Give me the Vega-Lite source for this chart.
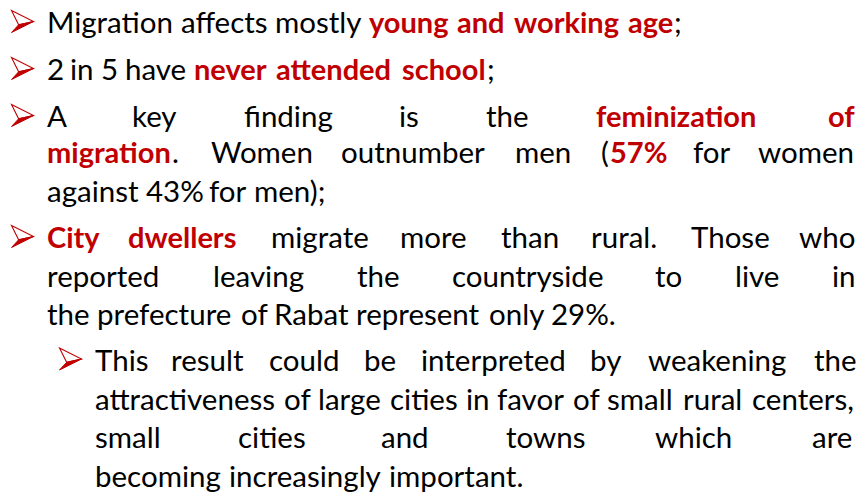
{
  "$schema": "https://vega.github.io/schema/vega-lite/v6.json",
  "width": 861,
  "height": 495,
  "autosize": {"type": "fit", "contains": "padding"},
  "padding": 0,
  "background": "white",
  "config": {"view": {"stroke": null}},
  "datasets": {
    "words": [
      {"y": 33, "x": 47, "t": "Migration", "s": "n"},
      {"y": 33, "x": 181, "t": "affects", "s": "n"},
      {"y": 33, "x": 275, "t": "mostly", "s": "n"},
      {"y": 33, "x": 369, "t": "young", "s": "b"},
      {"y": 33, "x": 457, "t": "and", "s": "b"},
      {"y": 33, "x": 514, "t": "working", "s": "b"},
      {"y": 33, "x": 628, "t": "age", "s": "b"},
      {"y": 33, "x": 674, "t": ";", "s": "n"},
      {"y": 80, "x": 47, "t": "2", "s": "n"},
      {"y": 80, "x": 70, "t": "in", "s": "n"},
      {"y": 80, "x": 101, "t": "5", "s": "n"},
      {"y": 80, "x": 125, "t": "have", "s": "n"},
      {"y": 80, "x": 194, "t": "never", "s": "b"},
      {"y": 80, "x": 276, "t": "attended", "s": "b"},
      {"y": 80, "x": 402, "t": "school", "s": "b"},
      {"y": 80, "x": 487, "t": ";", "s": "n"},
      {"y": 127, "x": 47, "t": "A", "s": "n"},
      {"y": 127, "x": 132, "t": "key", "s": "n"},
      {"y": 127, "x": 244, "t": "finding", "s": "n"},
      {"y": 127, "x": 399, "t": "is", "s": "n"},
      {"y": 127, "x": 486, "t": "the", "s": "n"},
      {"y": 127, "x": 596, "t": "feminization", "s": "b"},
      {"y": 127, "x": 828, "t": "of", "s": "b"},
      {"y": 163, "x": 47, "t": "migration", "s": "b"},
      {"y": 163, "x": 172, "t": ".", "s": "n"},
      {"y": 163, "x": 211, "t": "Women", "s": "n"},
      {"y": 163, "x": 341, "t": "outnumber", "s": "n"},
      {"y": 163, "x": 515, "t": "men", "s": "n"},
      {"y": 163, "x": 601, "t": "(", "s": "n"},
      {"y": 163, "x": 610, "t": "57%", "s": "b"},
      {"y": 163, "x": 693, "t": "for", "s": "n"},
      {"y": 163, "x": 758, "t": "women", "s": "n"},
      {"y": 202, "x": 47, "t": "against", "s": "n"},
      {"y": 202, "x": 146, "t": "43%", "s": "n"},
      {"y": 202, "x": 209, "t": "for", "s": "n"},
      {"y": 202, "x": 254, "t": "men);", "s": "n"},
      {"y": 248, "x": 47, "t": "City", "s": "b"},
      {"y": 248, "x": 128, "t": "dwellers", "s": "b"},
      {"y": 248, "x": 271, "t": "migrate", "s": "n"},
      {"y": 248, "x": 400, "t": "more", "s": "n"},
      {"y": 248, "x": 501, "t": "than", "s": "n"},
      {"y": 248, "x": 591, "t": "rural.", "s": "n"},
      {"y": 248, "x": 691, "t": "Those", "s": "n"},
      {"y": 248, "x": 799, "t": "who", "s": "n"},
      {"y": 287, "x": 47, "t": "reported", "s": "n"},
      {"y": 287, "x": 213, "t": "leaving", "s": "n"},
      {"y": 287, "x": 357, "t": "the", "s": "n"},
      {"y": 287, "x": 452, "t": "countryside", "s": "n"},
      {"y": 287, "x": 655, "t": "to", "s": "n"},
      {"y": 287, "x": 735, "t": "live", "s": "n"},
      {"y": 287, "x": 832, "t": "in", "s": "n"},
      {"y": 325, "x": 47, "t": "the", "s": "n"},
      {"y": 325, "x": 97, "t": "prefecture", "s": "n"},
      {"y": 325, "x": 241, "t": "of", "s": "n"},
      {"y": 325, "x": 274, "t": "Rabat", "s": "n"},
      {"y": 325, "x": 356, "t": "represent", "s": "n"},
      {"y": 325, "x": 489, "t": "only", "s": "n"},
      {"y": 325, "x": 551, "t": "29%.", "s": "n"},
      {"y": 371, "x": 95, "t": "This", "s": "n"},
      {"y": 371, "x": 171, "t": "result", "s": "n"},
      {"y": 371, "x": 269, "t": "could", "s": "n"},
      {"y": 371, "x": 364, "t": "be", "s": "n"},
      {"y": 371, "x": 421, "t": "interpreted", "s": "n"},
      {"y": 371, "x": 590, "t": "by", "s": "n"},
      {"y": 371, "x": 648, "t": "weakening", "s": "n"},
      {"y": 371, "x": 814, "t": "the", "s": "n"},
      {"y": 410, "x": 95, "t": "attractiveness", "s": "n"},
      {"y": 410, "x": 284, "t": "of", "s": "n"},
      {"y": 410, "x": 318, "t": "large", "s": "n"},
      {"y": 410, "x": 390, "t": "cities", "s": "n"},
      {"y": 410, "x": 466, "t": "in", "s": "n"},
      {"y": 410, "x": 497, "t": "favor", "s": "n"},
      {"y": 410, "x": 573, "t": "of", "s": "n"},
      {"y": 410, "x": 607, "t": "small", "s": "n"},
      {"y": 410, "x": 683, "t": "rural", "s": "n"},
      {"y": 410, "x": 752, "t": "centers,", "s": "n"},
      {"y": 448, "x": 95, "t": "small", "s": "n"},
      {"y": 448, "x": 238, "t": "cities", "s": "n"},
      {"y": 448, "x": 381, "t": "and", "s": "n"},
      {"y": 448, "x": 506, "t": "towns", "s": "n"},
      {"y": 448, "x": 655, "t": "which", "s": "n"},
      {"y": 448, "x": 812, "t": "are", "s": "n"},
      {"y": 487, "x": 95, "t": "becoming", "s": "n"},
      {"y": 487, "x": 229, "t": "increasingly", "s": "n"},
      {"y": 487, "x": 389, "t": "important.", "s": "n"}
    ],
    "bullets": [
      {"x": 22.5, "y": 21.5},
      {"x": 22.5, "y": 68.5},
      {"x": 22.5, "y": 115.5},
      {"x": 22.5, "y": 236.5},
      {"x": 70.5, "y": 359}
    ]
  },
  "layer": [
    {
      "data": {"name": "words"},
      "transform": [{"filter": "datum.s == 'n'"}],
      "mark": {"type": "text", "align": "left", "baseline": "alphabetic", "font": "Lato", "fontSize": 29.5, "color": "#000000"},
      "encoding": {
        "x": {"field": "x", "type": "quantitative", "scale": {"domain": [0, 861], "nice": false, "zero": false}, "axis": null},
        "y": {"field": "y", "type": "quantitative", "scale": {"domain": [0, 495], "nice": false, "reverse": true}, "axis": null},
        "text": {"field": "t"}
      }
    },
    {
      "data": {"name": "words"},
      "transform": [{"filter": "datum.s == 'b'"}],
      "mark": {"type": "text", "align": "left", "baseline": "alphabetic", "font": "Lato", "fontSize": 29, "fontWeight": "bold", "color": "#C00000"},
      "encoding": {
        "x": {"field": "x", "type": "quantitative", "scale": {"domain": [0, 861], "nice": false, "zero": false}, "axis": null},
        "y": {"field": "y", "type": "quantitative", "scale": {"domain": [0, 495], "nice": false, "reverse": true}, "axis": null},
        "text": {"field": "t"}
      }
    },
    {
      "data": {"name": "bullets"},
      "mark": {"type": "point", "shape": "M-1,-1L1,0L-0.35,0.3Z", "filled": true, "fill": "#ffffff", "stroke": "#C00000", "strokeWidth": 1.1, "size": 484, "opacity": 1},
      "encoding": {
        "x": {"field": "x", "type": "quantitative", "scale": {"domain": [0, 861], "nice": false, "zero": false}, "axis": null},
        "y": {"field": "y", "type": "quantitative", "scale": {"domain": [0, 495], "nice": false, "reverse": true}, "axis": null}
      }
    },
    {
      "data": {"name": "bullets"},
      "mark": {"type": "point", "shape": "M-1,1L1,0L-0.35,0.3Z", "filled": true, "fill": "#C00000", "stroke": "#C00000", "strokeWidth": 1, "size": 484, "opacity": 1},
      "encoding": {
        "x": {"field": "x", "type": "quantitative", "scale": {"domain": [0, 861], "nice": false, "zero": false}, "axis": null},
        "y": {"field": "y", "type": "quantitative", "scale": {"domain": [0, 495], "nice": false, "reverse": true}, "axis": null}
      }
    }
  ]
}
